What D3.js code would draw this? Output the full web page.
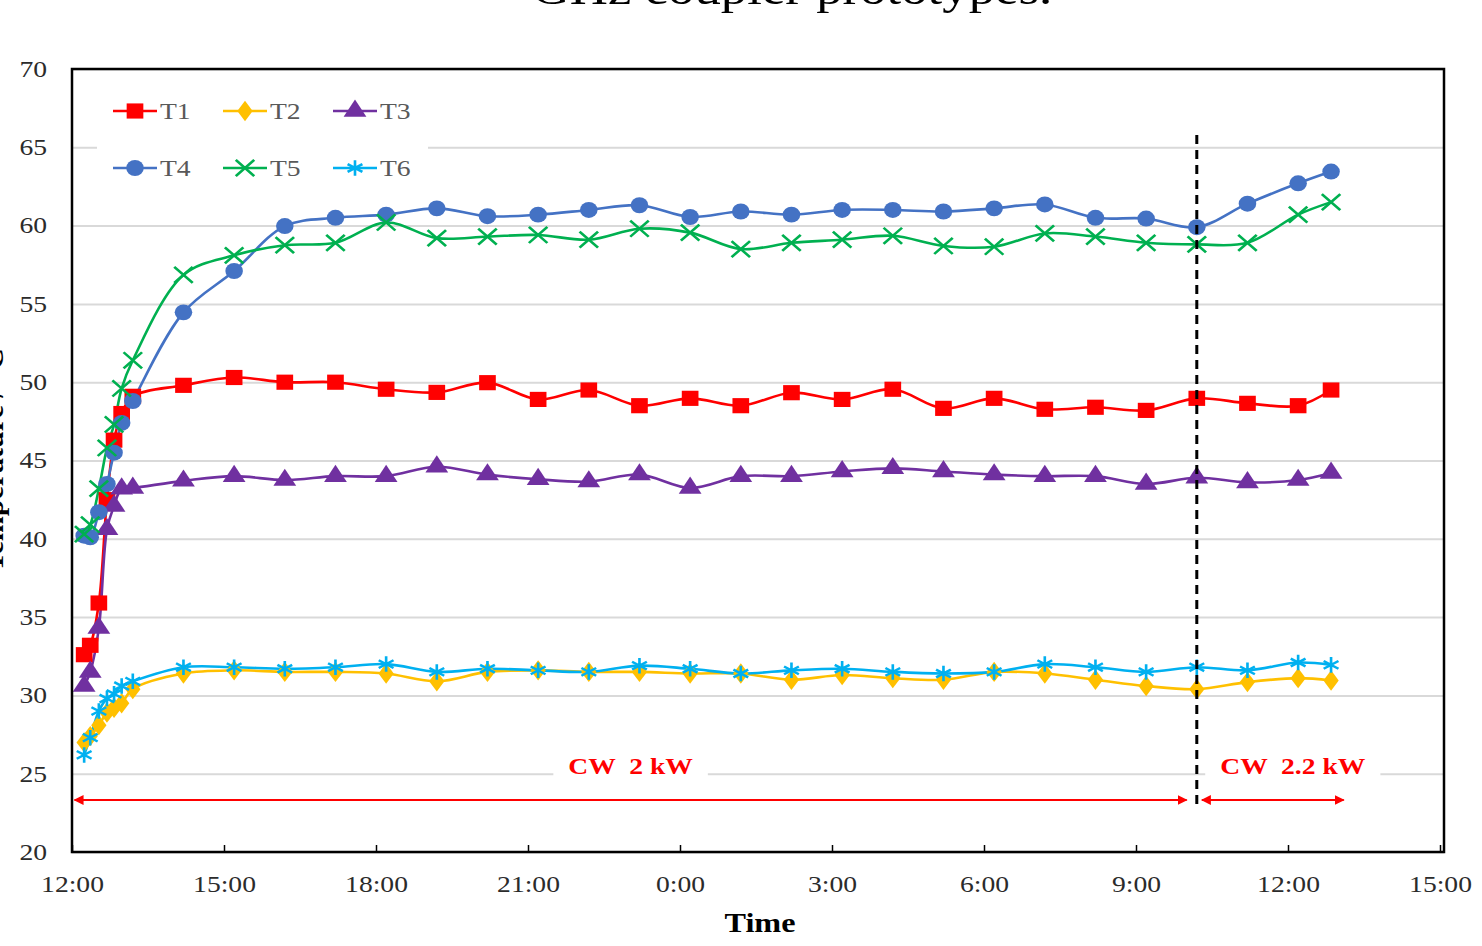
<!DOCTYPE html>
<html>
<head>
<meta charset="utf-8">
<script src="https://cdn.jsdelivr.net/npm/d3@7"></script>
<style>
  body { margin: 0; background: #fff; }
  svg { display: block; font-family: "Liberation Serif", "Times New Roman", serif; }
</style>
</head>
<body>
<svg id="chart" width="1482" height="946"></svg>
<script>
"use strict";

// sample times, hours after 12:00 on day one
var hours = [0.24, 0.36, 0.53, 0.69, 0.83, 0.98, 1.2, 2.2, 3.2, 4.2, 5.2, 6.2, 7.2, 8.2, 9.2, 10.2,
    11.2, 12.2, 13.2, 14.2, 15.2, 16.2, 17.2, 18.2, 19.2, 20.2, 21.2, 22.2, 23.2, 24.2, 24.85];

var t1 = [32.6, 33.2, 35.9, 42.5, 46.3, 48.0, 49.1, 49.8, 50.3, 50.0, 50.0, 49.55, 49.35, 49.97, 48.9, 49.5,
    48.5, 48.97, 48.5, 49.33, 48.9, 49.55, 48.33, 48.97, 48.27, 48.4, 48.2, 48.97, 48.65, 48.5, 49.5];
var t2 = [27.0, 27.4, 28.1, 28.9, 29.2, 29.5, 30.4, 31.4, 31.6, 31.5, 31.5, 31.4, 30.9, 31.5, 31.6, 31.5,
    31.5, 31.4, 31.4, 31.0, 31.3, 31.1, 31.0, 31.5, 31.4, 31.0, 30.6, 30.4, 30.85, 31.1, 30.95];
var t3 = [30.6, 31.5, 34.3, 40.6, 42.1, 43.2, 43.25, 43.7, 44.0, 43.75, 44.0, 44.0, 44.6, 44.1, 43.8, 43.65,
    44.1, 43.25, 44.0, 44.0, 44.3, 44.5, 44.3, 44.1, 44.0, 44.0, 43.5, 43.9, 43.6, 43.75, 44.2];
var t4 = [40.2, 40.1, 41.7, 43.5, 45.5, 47.4, 48.8, 54.46, 57.1, 59.97, 60.5, 60.7, 61.1, 60.6, 60.7, 61.0,
    61.3, 60.55, 60.9, 60.7, 61.0, 61.0, 60.9, 61.1, 61.35, 60.5, 60.45, 59.9, 61.4, 62.7, 63.45];
var t5 = [40.3, 40.9, 43.2, 45.8, 47.3, 49.6, 51.4, 56.85, 58.1, 58.75, 58.9, 60.2, 59.2, 59.3, 59.4, 59.1,
    59.8, 59.55, 58.5, 58.9, 59.1, 59.35, 58.7, 58.65, 59.5, 59.3, 58.9, 58.8, 58.9, 60.7, 61.5];
var t6 = [26.2, 27.3, 29.0, 29.8, 30.1, 30.6, 30.9, 31.8, 31.8, 31.7, 31.8, 32.0, 31.5, 31.7, 31.6, 31.5,
    31.9, 31.7, 31.4, 31.6, 31.7, 31.5, 31.4, 31.5, 32.0, 31.8, 31.5, 31.8, 31.6, 32.1, 31.95];

var seriesNames = ['T1', 'T2', 'T3', 'T4', 'T5', 'T6'];
var tickHours = [0, 3, 6, 9, 12, 15, 18, 21, 24, 27];
var tickLabels = ['12:00', '15:00', '18:00', '21:00', '0:00', '3:00', '6:00', '9:00', '12:00', '15:00'];
var yTicks = [20, 25, 30, 35, 40, 45, 50, 55, 60, 65, 70];

// power phases: [start hour, end hour, label]
var switchHour = 22.2;
var phases = [[0.05, 22.0, 'CW  2 kW'], [22.3, 25.1, 'CW  2.2 kW']];

var styles = {
    T1: {color: '#ff0000', symbol: d3.symbolSquare, size: 230, sx: 1.1},
    T2: {color: '#ffc000', symbol: d3.symbolDiamond, size: 120, sx: 1.3},
    T3: {color: '#7030a0', symbol: d3.symbolTriangle, size: 170, sx: 1.15},
    T4: {color: '#4472c4', symbol: d3.symbolCircle, size: 200, sx: 1.1},
    T5: {color: '#00b050', symbol: d3.symbolTimes, size: 170, sx: 1.15},
    T6: {color: '#00b0f0', symbol: d3.symbolAsterisk, size: 170, sx: 1.1}
};

var margin = {left: 72, top: 69, right: 1444, bottom: 852};
var svg = d3.select('#chart');

var x = d3.scaleLinear().domain([0, 27]).range([margin.left, 1440]);
var y = d3.scaleLinear().domain([20, 70]).range([margin.bottom, margin.top]);

// widen glyphs a little, the picture is horizontally stretched
function stretch(sel, k) {
    sel.each(function() {
        var w = this.getComputedTextLength();
        d3.select(this).attr('textLength', w * k).attr('lengthAdjust', 'spacingAndGlyphs');
    });
}

// clipped title at the very top
svg.append('text')
    .attr('x', 792).attr('y', 4)
    .attr('text-anchor', 'middle')
    .style('font-size', '44px')
    .text('GHz coupler prototypes.')
    .call(stretch, 1.2);

// horizontal gridlines
svg.append('g')
    .attr('transform', 'translate(' + margin.left + ',0)')
    .call(d3.axisLeft(y).tickValues(yTicks).tickSize(-(margin.right - margin.left)).tickFormat(''))
    .call(function(g) { g.select('.domain').remove(); })
    .selectAll('line')
    .attr('stroke', '#d9d9d9')
    .attr('stroke-width', 2);

// y tick labels
svg.append('g')
    .attr('transform', 'translate(' + margin.left + ',0)')
    .call(d3.axisLeft(y).tickValues(yTicks).tickSize(0).tickPadding(25))
    .call(function(g) { g.select('.domain').remove(); })
    .selectAll('text')
    .style('font-size', '23px')
    .attr('fill', '#2b2b2b')
    .attr('font-family', '"Liberation Serif", serif')
    .call(stretch, 1.2);

// x axis with ticks pointing inwards
var xAxis = svg.append('g')
    .attr('transform', 'translate(0,' + margin.bottom + ')')
    .call(d3.axisBottom(x).tickValues(tickHours)
        .tickFormat(function(d, i) { return tickLabels[i]; })
        .tickSizeInner(-7).tickSizeOuter(0).tickPadding(24));
xAxis.select('.domain').remove();
xAxis.selectAll('line').attr('stroke', '#000').attr('stroke-width', 1.5);
xAxis.selectAll('text')
    .style('font-size', '23px')
    .attr('fill', '#2b2b2b')
    .attr('font-family', '"Liberation Serif", serif')
    .call(stretch, 1.2);

// axis titles
svg.append('text')
    .attr('x', 760).attr('y', 932)
    .attr('text-anchor', 'middle')
    .style('font-size', '28px').style('font-weight', 'bold')
    .text('Time')
    .call(stretch, 1.15);

svg.append('text')
    .attr('transform', 'translate(3,460) rotate(-90)')
    .attr('text-anchor', 'middle')
    .style('font-size', '30px').style('font-weight', 'bold')
    .text('Temperature / °C');

// series
var line = d3.line()
    .x(function(d) { return x(d[0]); })
    .y(function(d) { return y(d[1]); })
    .curve(d3.curveCatmullRom.alpha(0.5));

var allValues = [t1, t2, t3, t4, t5, t6];
var series = seriesNames.map(function(name, i) {
    return {name: name, points: hours.map(function(h, j) { return [h, allValues[i][j]]; })};
});

var plot = svg.append('g');
series.forEach(function(s) {
    var st = styles[s.name];
    plot.append('path')
        .attr('d', line(s.points))
        .attr('fill', 'none')
        .attr('stroke', st.color)
        .attr('stroke-width', 2.6);
});

function drawMarker(g, name, cx, cy) {
    var st = styles[name];
    var open = (st.symbol === d3.symbolTimes || st.symbol === d3.symbolAsterisk);
    g.append('path')
        .attr('transform', 'translate(' + cx + ',' + cy + ') scale(' + st.sx + ',1)')
        .attr('d', d3.symbol().type(st.symbol).size(st.size)())
        .attr('fill', open ? 'none' : st.color)
        .attr('stroke', st.color)
        .attr('stroke-width', open ? 2.4 : 0);
}

series.forEach(function(s) {
    s.points.forEach(function(p) { drawMarker(plot, s.name, x(p[0]), y(p[1])); });
});

// switch-over line between the two power levels
svg.append('line')
    .attr('x1', x(switchHour)).attr('x2', x(switchHour))
    .attr('y1', 135).attr('y2', 810)
    .attr('stroke', '#000')
    .attr('stroke-width', 3)
    .attr('stroke-dasharray', '9,6');

// double-headed arrows and phase labels
var defs = svg.append('defs');
defs.append('marker')
    .attr('id', 'arrowhead')
    .attr('viewBox', '0 0 10 10')
    .attr('refX', 9).attr('refY', 5)
    .attr('markerWidth', 5).attr('markerHeight', 5)
    .attr('orient', 'auto-start-reverse')
  .append('path')
    .attr('d', 'M0,0L10,5L0,10z')
    .attr('fill', '#ff0000');

phases.forEach(function(ph) {
    var x0 = x(ph[0]), x1 = x(ph[1]);
    svg.append('line')
        .attr('x1', x0).attr('x2', x1)
        .attr('y1', 800).attr('y2', 800)
        .attr('stroke', '#ff0000')
        .attr('stroke-width', 2)
        .attr('marker-start', 'url(#arrowhead)')
        .attr('marker-end', 'url(#arrowhead)');
    var cx = (x0 + x1) / 2 + (ph === phases[0] ? 0 : 20);
    var label = svg.append('text')
        .attr('x', cx).attr('y', 774)
        .attr('text-anchor', 'middle')
        .attr('fill', '#ff0000')
        .style('font-size', '24px').style('font-weight', 'bold')
        .style('white-space', 'pre')
        .text(ph[2])
        .call(stretch, 1.15);
    var bb = label.node().getBBox();
    svg.insert('rect', function() { return label.node(); })
        .attr('x', bb.x - 15).attr('y', bb.y - 2)
        .attr('width', bb.width + 30).attr('height', bb.height + 4)
        .attr('fill', '#fff');
});

// legend
var legend = svg.append('g');
legend.append('rect')
    .attr('x', 97).attr('y', 86)
    .attr('width', 331).attr('height', 108)
    .attr('fill', '#fff');
var legendX = [113, 223, 333];
var legendY = [111, 168];
seriesNames.forEach(function(name, i) {
    var lx = legendX[i % 3], ly = legendY[Math.floor(i / 3)];
    var st = styles[name];
    legend.append('line')
        .attr('x1', lx).attr('x2', lx + 44)
        .attr('y1', ly).attr('y2', ly)
        .attr('stroke', st.color)
        .attr('stroke-width', 2.6);
    drawMarker(legend, name, lx + 22, ly);
    legend.append('text')
        .attr('x', lx + 47).attr('y', ly + 8)
        .attr('fill', '#595959')
        .style('font-size', '24px')
        .text(name)
        .call(stretch, 1.15);
});

// plot frame
svg.append('rect')
    .attr('x', margin.left).attr('y', margin.top)
    .attr('width', margin.right - margin.left)
    .attr('height', margin.bottom - margin.top)
    .attr('fill', 'none')
    .attr('stroke', '#000')
    .attr('stroke-width', 2.5);
</script>
</body>
</html>
